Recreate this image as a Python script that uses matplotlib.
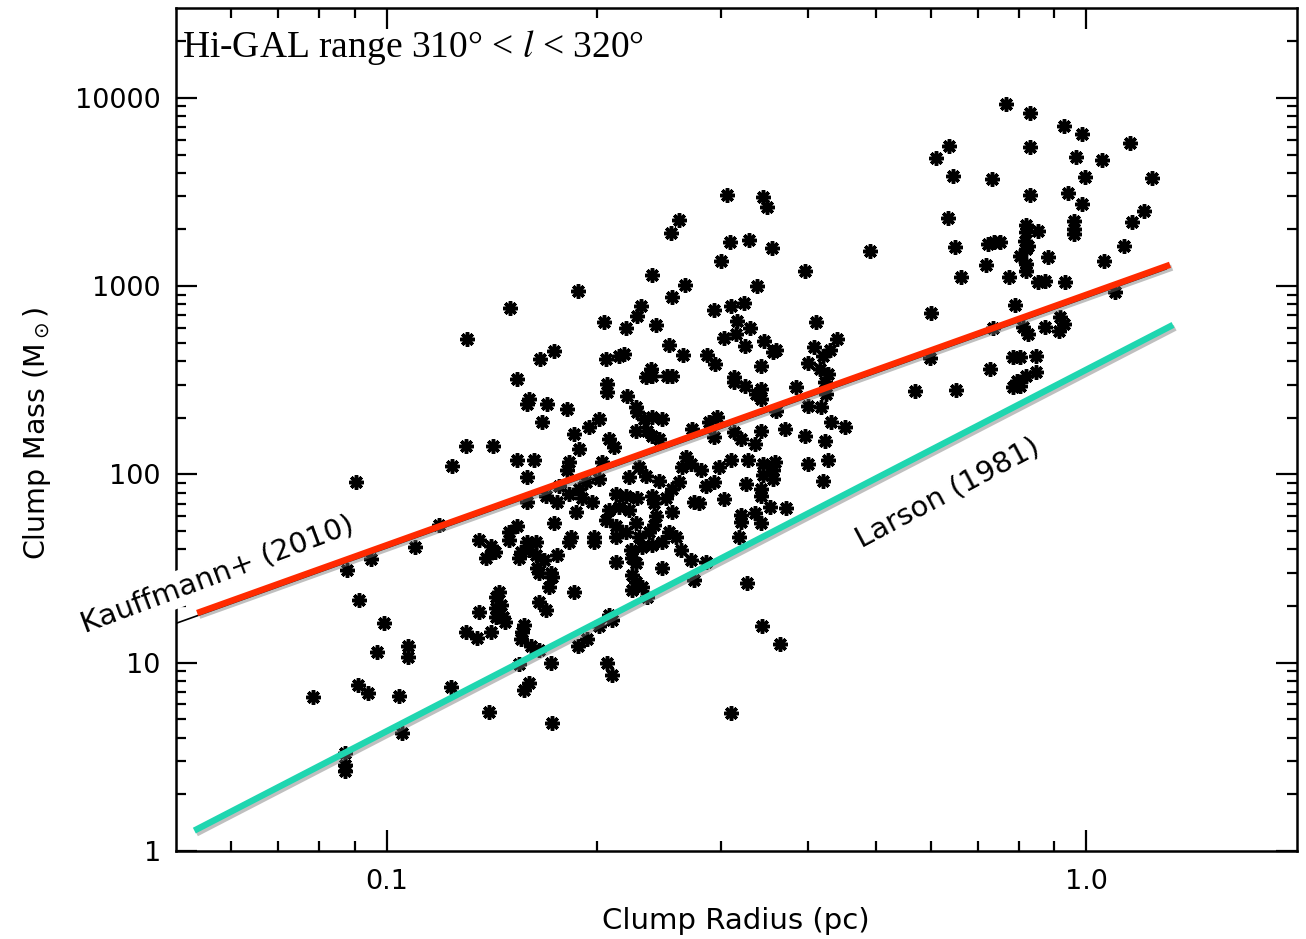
import matplotlib
matplotlib.use("Agg")
import matplotlib.pyplot as plt
import matplotlib.patheffects as pe
import numpy as np

# --- clump radius (pc) / clump mass (Msun) ---
# low-mass tail on the left
r_left = [0.0785, 0.0904, 0.0877, 0.0949, 0.1096, 0.0912, 0.099, 0.0968, 0.1074, 0.1074,
          0.0909, 0.094, 0.1043, 0.1237, 0.105, 0.0871, 0.0871, 0.0871, 0.1402, 0.1357,
          0.130, 0.1348, 0.1411, 0.1435, 0.1435, 0.1435, 0.1388, 0.143, 0.1304, 0.130,
          0.1419, 0.1241, 0.1186, 0.1357, 0.1411]
m_left = [6.6, 91, 31.2, 35.7, 41.4, 21.6, 16.3, 11.4, 12.2, 10.7,
          7.64, 6.92, 6.68, 7.45, 4.24, 3.3, 2.85, 2.65, 5.48, 18.6,
          14.6, 13.6, 14.6, 22.4, 19.6, 17.5, 36.2, 38.9, 523, 141,
          141, 111, 54.2, 45.1, 41.9]

# central cluster, 0.15 - 0.28 pc
r_mid = [0.2615, 0.2547, 0.2393, 0.2667, 0.2555, 0.1878, 0.1502, 0.2308, 0.2278, 0.2197,
         0.2044, 0.2425, 0.253, 0.265, 0.1735, 0.1657, 0.2058, 0.2148, 0.2184, 0.2386,
         0.1537, 0.2346, 0.2394, 0.2513, 0.2555, 0.2064, 0.2064, 0.2204, 0.1599, 0.1589,
         0.1696, 0.1811, 0.227, 0.2278, 0.1668, 0.1946, 0.2011, 0.2331, 0.2394, 0.2473,
         0.227, 0.2354, 0.2394, 0.1853, 0.2078, 0.2113, 0.2449, 0.2729, 0.1884, 0.1537,
         0.1626, 0.1823, 0.1811, 0.2031, 0.2293, 0.2675, 0.272, 0.2641, 0.1589, 0.2011,
         0.1927, 0.1884, 0.2219, 0.2346, 0.2449, 0.2615, 0.2555, 0.1764, 0.1823, 0.1589,
         0.169, 0.1752, 0.1903, 0.1965, 0.2127, 0.2197, 0.2278, 0.2394, 0.2505, 0.2747,
         0.2078, 0.2148, 0.2219, 0.1865, 0.241, 0.2425, 0.2555, 0.1735, 0.2058, 0.2127,
         0.227, 0.241, 0.253, 0.1537, 0.1497, 0.2197, 0.2127, 0.1835, 0.1978, 0.2293,
         0.237, 0.2589, 0.1497, 0.1589, 0.1636, 0.1557, 0.1599, 0.1636, 0.1679, 0.1547,
         0.1752, 0.1823, 0.1978, 0.1641, 0.1652, 0.1718, 0.1724, 0.1707, 0.2127, 0.2234,
         0.2241, 0.227, 0.2316, 0.2394, 0.2473, 0.2632, 0.272, 0.2473, 0.2241, 0.227,
         0.2241, 0.2316, 0.2354, 0.2747, 0.1449, 0.1459, 0.1853, 0.1652, 0.169, 0.1464,
         0.1478, 0.1572, 0.1562, 0.1557, 0.1607, 0.1652, 0.2078, 0.2099, 0.2011, 0.1933,
         0.1878, 0.1718, 0.1547, 0.2064, 0.2099, 0.1599, 0.1572, 0.1724]
m_mid = [2240, 1910, 1144, 1020, 874, 941, 764, 783, 693, 598,
         644, 620, 485, 429, 451, 409, 409, 424, 435, 362,
         320, 328, 332, 332, 332, 301, 273, 260, 251, 236,
         236, 222, 228, 214, 191, 178, 196, 196, 201, 196,
         170, 170, 160, 164, 154, 139, 154, 174, 136, 120,
         120, 117, 106, 117, 110, 123, 113, 109, 96.4, 94.1,
         90.7, 83.2, 96.4, 97.6, 91.8, 90.7, 83.2, 86.3, 78.3, 71.8,
         76.4, 71.8, 75.4, 71.8, 78.3, 76.4, 75.4, 76.4, 75.4, 71.8,
         65.1, 67.5, 65.1, 63.5, 70.9, 59.8, 63.5, 55.5, 57.6, 52.9,
         55.5, 54.2, 49.2, 52.9, 49.2, 49.2, 46.8, 46.8, 46.8, 46.8,
         49.2, 46.8, 45.1, 44.0, 43.5, 38.5, 39.9, 37.5, 35.3, 36.2,
         37.5, 43.5, 44.0, 32.0, 30.1, 30.1, 28.6, 25.3, 34.4, 39.9,
         36.2, 34.0, 41.4, 42.4, 44.0, 39.9, 35.3, 32.0, 29.3, 26.9,
         24.4, 25.3, 22.4, 27.6, 23.8, 20.3, 23.8, 21.1, 19.1, 17.5,
         16.5, 15.9, 14.6, 13.3, 12.2, 11.7, 18.0, 16.9, 15.6, 13.3,
         12.2, 10.0, 9.8, 10.0, 8.64, 7.83, 7.18, 4.80]

# 0.28 - 0.5 pc
r_outer = [0.306, 0.3455, 0.350, 0.310, 0.330, 0.3558, 0.300, 0.3965, 0.3388, 0.2933,
           0.3101, 0.3236, 0.3172, 0.3031, 0.3162, 0.331, 0.3466, 0.3257, 0.357, 0.3605,
           0.4111, 0.4403, 0.4084, 0.4207, 0.4304, 0.2866, 0.2943, 0.3433, 0.4005, 0.4165,
           0.4276, 0.3132, 0.490, 0.3132, 0.3257, 0.3433, 0.3422, 0.3377, 0.385, 0.4234,
           0.4248, 0.4005, 0.4179, 0.3605, 0.2885, 0.2961, 0.2933, 0.3132, 0.3204, 0.3433,
           0.3365, 0.3713, 0.3965, 0.4319, 0.4521, 0.4234, 0.3101, 0.2981, 0.3289, 0.3455,
           0.3593, 0.3455, 0.357, 0.4005, 0.4276, 0.4207, 0.281, 0.2856, 0.2933, 0.3267,
           0.357, 0.3433, 0.3433, 0.3031, 0.3535, 0.3725, 0.3204, 0.3204, 0.3365, 0.3422,
           0.3183, 0.2856, 0.3278, 0.3444, 0.3653, 0.3101, 0.2792]
m_outer = [3050, 2980, 2630, 1710, 1760, 1590, 1360, 1200, 1000, 746,
           783, 812, 652, 529, 556, 598, 510, 479, 445, 456,
           644, 523, 474, 424, 456, 429, 385, 376, 390, 362,
           341, 328, 1535, 308, 294, 283, 251, 266, 290, 308,
           266, 230, 228, 217, 191, 201, 158, 168, 154, 170,
           145, 174, 160, 189, 178, 150, 120, 110, 120, 113,
           117, 99.7, 106, 113, 120, 91.8, 106, 86.3, 90.7, 88.5,
           94.1, 83.2, 76.4, 73.6, 67.5, 66.7, 61.2, 56.2, 62.7, 55.5,
           46.8, 34.4, 26.6, 15.6, 12.5, 5.42, 70.9]

# massive clumps, 0.55 - 1.3 pc
r_big = [0.767, 0.830, 0.930, 0.987, 1.155, 0.636, 0.609, 0.832, 0.965, 1.054,
         0.644, 0.732, 0.996, 1.242, 0.830, 0.940, 0.987, 0.634, 1.210, 1.163,
         0.961, 0.961, 0.961, 0.819, 0.852, 0.819, 0.648, 0.723, 0.739, 0.752,
         0.824, 0.816, 0.819, 0.803, 1.133, 0.880, 0.718, 0.819, 0.819, 1.060,
         0.661, 0.774, 0.852, 0.874, 0.933, 1.100, 0.790, 0.600, 0.735, 0.811,
         0.824, 0.874, 0.918, 0.930, 0.915, 0.598, 0.785, 0.805, 0.846, 0.728,
         0.846, 0.819, 0.797, 0.785, 0.805, 0.569, 0.651]
m_big = [9300, 8320, 7100, 6440, 5760, 5560, 4800, 5490, 4860, 4680,
         3850, 3710, 3800, 3750, 3050, 3120, 2730, 2300, 2510, 2190,
         2220, 2010, 1890, 2110, 1960, 1940, 1610, 1670, 1710, 1710,
         1630, 1735, 1573, 1440, 1630, 1430, 1290, 1310, 1200, 1360,
         1116, 1116, 1050, 1062, 1050, 929, 793, 719, 598, 606,
         556, 606, 685, 628, 577, 414, 419, 419, 424, 362,
         349, 332, 312, 290, 294, 276, 280]

# mass-radius relations M = A * r^b
kauff_A, kauff_b = 870, 1.33          # Kauffmann+ (2010), thin IDL line
kauff_overlay_A = 900                 # hand drawn red overlay
kauff_r = [0.05, 1.30]
kauff_overlay_r = [0.0536, 1.317]
larson_A, larson_b = 360, 1.92        # Larson (1981)
larson_r = [0.0531, 1.33]

xticks = [0.1, 1.0]
xticklabels = ['0.1', '1.0']
yticks = [1, 10, 100, 1000, 10000]
yticklabels = ['1', '10', '100', '1000', '10000']

radius = np.array(r_left + r_mid + r_outer + r_big)
mass = np.array(m_left + m_mid + m_outer + m_big)

fig = plt.figure(figsize=(13.06, 9.39), dpi=100)
ax = fig.add_axes([0.1348, 0.0937, 0.8583, 0.8978])
ax.set_xscale('log')
ax.set_yscale('log')
ax.set_xlim(0.05, 2.0)
ax.set_ylim(1, 30000)

# thin black Kauffmann line (underneath the points)
kr = np.array(kauff_r)
ax.plot(kr, kauff_A * kr ** kauff_b, color='black', lw=1.2, zorder=2)

ax.plot(radius, mass, ls='none', marker=(8, 2, 0), ms=10.5, mew=2.5,
        color='black', zorder=3)

shadow = [pe.SimpleLineShadow(offset=(1.5, -2), shadow_color='0.45', alpha=0.45),
          pe.Normal()]
kor = np.array(kauff_overlay_r)
ax.plot(kor, kauff_overlay_A * kor ** kauff_b, color='#ff2a00', lw=4.6,
        solid_capstyle='butt', zorder=6, path_effects=shadow)
lr = np.array(larson_r)
ax.plot(lr, larson_A * lr ** larson_b, color='#1fd6b0', lw=4.6,
        solid_capstyle='butt', zorder=6, path_effects=shadow)

ax.text(0.0573, 29.4, 'Kauffmann+ (2010)', rotation=20.5, rotation_mode='anchor',
        ha='center', va='center', fontsize=21, family='DejaVu Sans', zorder=5,
        bbox=dict(facecolor='white', edgecolor='none', pad=3))
ax.text(0.634, 80.2, 'Larson (1981)', rotation=28, rotation_mode='anchor',
        ha='center', va='center', fontsize=21, family='DejaVu Sans', zorder=5)

ax.text(0.005, 0.942, 'Hi-GAL range 310° < $l$ < 320°', transform=ax.transAxes,
        ha='left', va='baseline', fontsize=27, family='Liberation Serif',
        math_fontfamily='stix')

# ticks: IDL style, inward on all four sides
ax.set_xticks(xticks)
ax.set_xticklabels(xticklabels)
ax.set_xticks([0.06, 0.07, 0.08, 0.09, 0.2, 0.3, 0.4, 0.5, 0.6, 0.7, 0.8, 0.9], minor=True)
ax.xaxis.set_minor_formatter(plt.NullFormatter())
ax.set_yticks(yticks)
ax.set_yticklabels(yticklabels)
yminor = [m * d for d in [1, 10, 100, 1000] for m in range(2, 10)] + [20000]
ax.set_yticks(yminor, minor=True)
ax.yaxis.set_minor_formatter(plt.NullFormatter())

ax.tick_params(which='both', direction='in', top=True, right=True, width=1.6,
               labelsize=19.5, color='black')
ax.tick_params(which='major', length=15)
ax.tick_params(which='minor', length=7)
ax.tick_params(axis='x', which='major', pad=13)
ax.tick_params(axis='y', which='major', pad=11)
for s in ax.spines.values():
    s.set_linewidth(1.8)

ax.set_xlabel('Clump Radius (pc)', fontsize=21)
ax.set_ylabel('Clump Mass (M$_\\odot$)', fontsize=20.5)
ax.xaxis.set_label_coords(0.499, -0.066)
ax.yaxis.set_label_coords(-0.11, 0.496)

fig.savefig('out.png', dpi=100)
